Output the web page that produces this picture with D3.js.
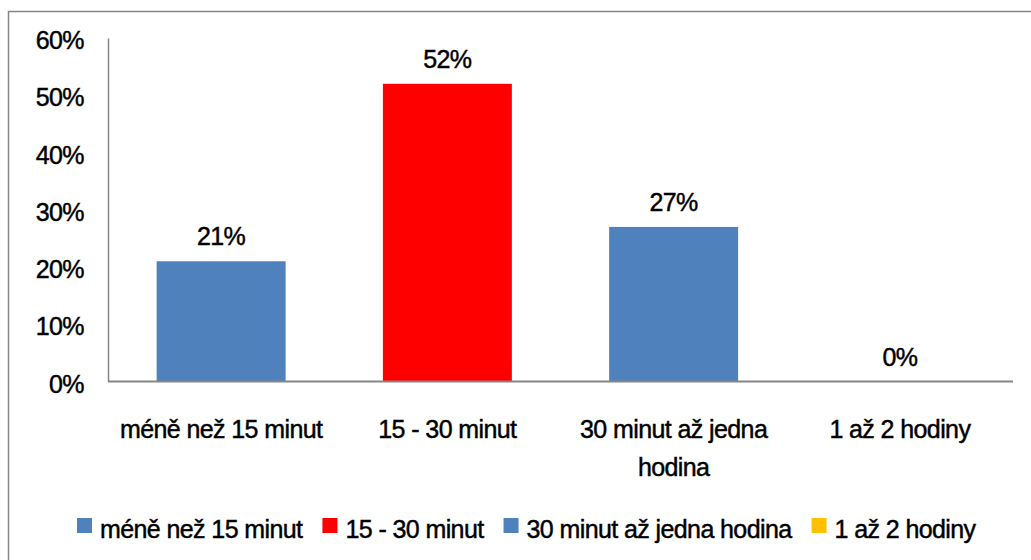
<!DOCTYPE html>
<html>
<head>
<meta charset="utf-8">
<script src="https://cdn.jsdelivr.net/npm/d3@7"></script>
<style>
  html, body { margin: 0; padding: 0; background: #fff; }
  svg { display: block; }
  text { font-family: "Liberation Sans", Arial, sans-serif; font-size: 25px; letter-spacing: -0.6px; fill: #000; stroke: #000; stroke-width: 0.45px; }
</style>
</head>
<body>
<svg id="chart" width="1031" height="560"></svg>
<script>
// Travel-time categories and their shares (percent)
const categories = ["méně než 15 minut", "15 - 30 minut", "30 minut až jedna hodina", "1 až 2 hodiny"];
const categoryLines = [["méně než 15 minut"], ["15 - 30 minut"], ["30 minut až jedna", "hodina"], ["1 až 2 hodiny"]];
const values = [21, 52, 27, 0];
const colors = ["#4F81BD", "#FF0000", "#4F81BD", "#FFC000"];
const yTicks = [0, 10, 20, 30, 40, 50, 60];

const svg = d3.select("#chart");

// outer frame
svg.append("rect")
  .attr("x", 8.5).attr("y", 11.5)
  .attr("width", 1040).attr("height", 560)
  .attr("fill", "none").attr("stroke", "#868686").attr("stroke-width", 1.5);

const plot = { left: 108, right: 1013, top: 38, bottom: 381.5 };

const x = d3.scaleBand()
  .domain(categories)
  .range([plot.left, plot.right])
  .paddingInner(0.43)
  .paddingOuter(0.215);

const y = d3.scaleLinear().domain([0, 60]).range([plot.bottom, plot.top]);

// bars
svg.selectAll("rect.bar")
  .data(values)
  .join("rect")
  .attr("class", "bar")
  .attr("x", (d, i) => x(categories[i]))
  .attr("width", x.bandwidth())
  .attr("y", d => y(d))
  .attr("height", d => y(0) - y(d))
  .attr("fill", (d, i) => colors[i]);

// y axis (labels only, plain line)
const yAxis = d3.axisLeft(y).tickValues(yTicks).tickFormat(d => d + "%").tickSize(0).tickPadding(24);
const gy = svg.append("g").attr("transform", `translate(${plot.left},0)`).call(yAxis);
gy.attr("font-family", null).attr("font-size", null);
gy.select(".domain").attr("stroke", "#868686").attr("stroke-width", 1.5);
gy.selectAll("text")
  .attr("fill", "#000")
  .attr("dy", "0.42em");

// x axis baseline
svg.append("line")
  .attr("x1", plot.left).attr("x2", plot.right)
  .attr("y1", y(0)).attr("y2", y(0))
  .attr("stroke", "#868686").attr("stroke-width", 2);

// value labels above bars
svg.selectAll("text.value")
  .data(values)
  .join("text")
  .attr("class", "value")
  .attr("x", (d, i) => x(categories[i]) + x.bandwidth() / 2)
  .attr("y", d => y(d) - 16)
  .attr("text-anchor", "middle")
  .text(d => d + "%");

// category labels
const cat = svg.selectAll("text.cat")
  .data(categoryLines)
  .join("text")
  .attr("class", "cat")
  .attr("x", (d, i) => x(categories[i]) + x.bandwidth() / 2)
  .attr("y", 438)
  .attr("text-anchor", "middle");
cat.selectAll("tspan")
  .data((d, i) => d.map(t => ({ t, cx: x(categories[i]) + x.bandwidth() / 2 })))
  .join("tspan")
  .attr("x", d => d.cx)
  .attr("dy", (d, j) => j === 0 ? 0 : 38)
  .text(d => d.t);

// legend
const legend = svg.append("g").attr("transform", "translate(77,538)");
let lx = 0;
categories.forEach((c, i) => {
  const g = legend.append("g").attr("transform", `translate(${lx},0)`);
  g.append("rect").attr("x", 0).attr("y", -20).attr("width", 15).attr("height", 15).attr("fill", colors[i]);
  const t = g.append("text").attr("x", 23).attr("y", 0).text(c);
  lx += 23 + t.node().getComputedTextLength() + 20;
});
</script>
</body>
</html>
